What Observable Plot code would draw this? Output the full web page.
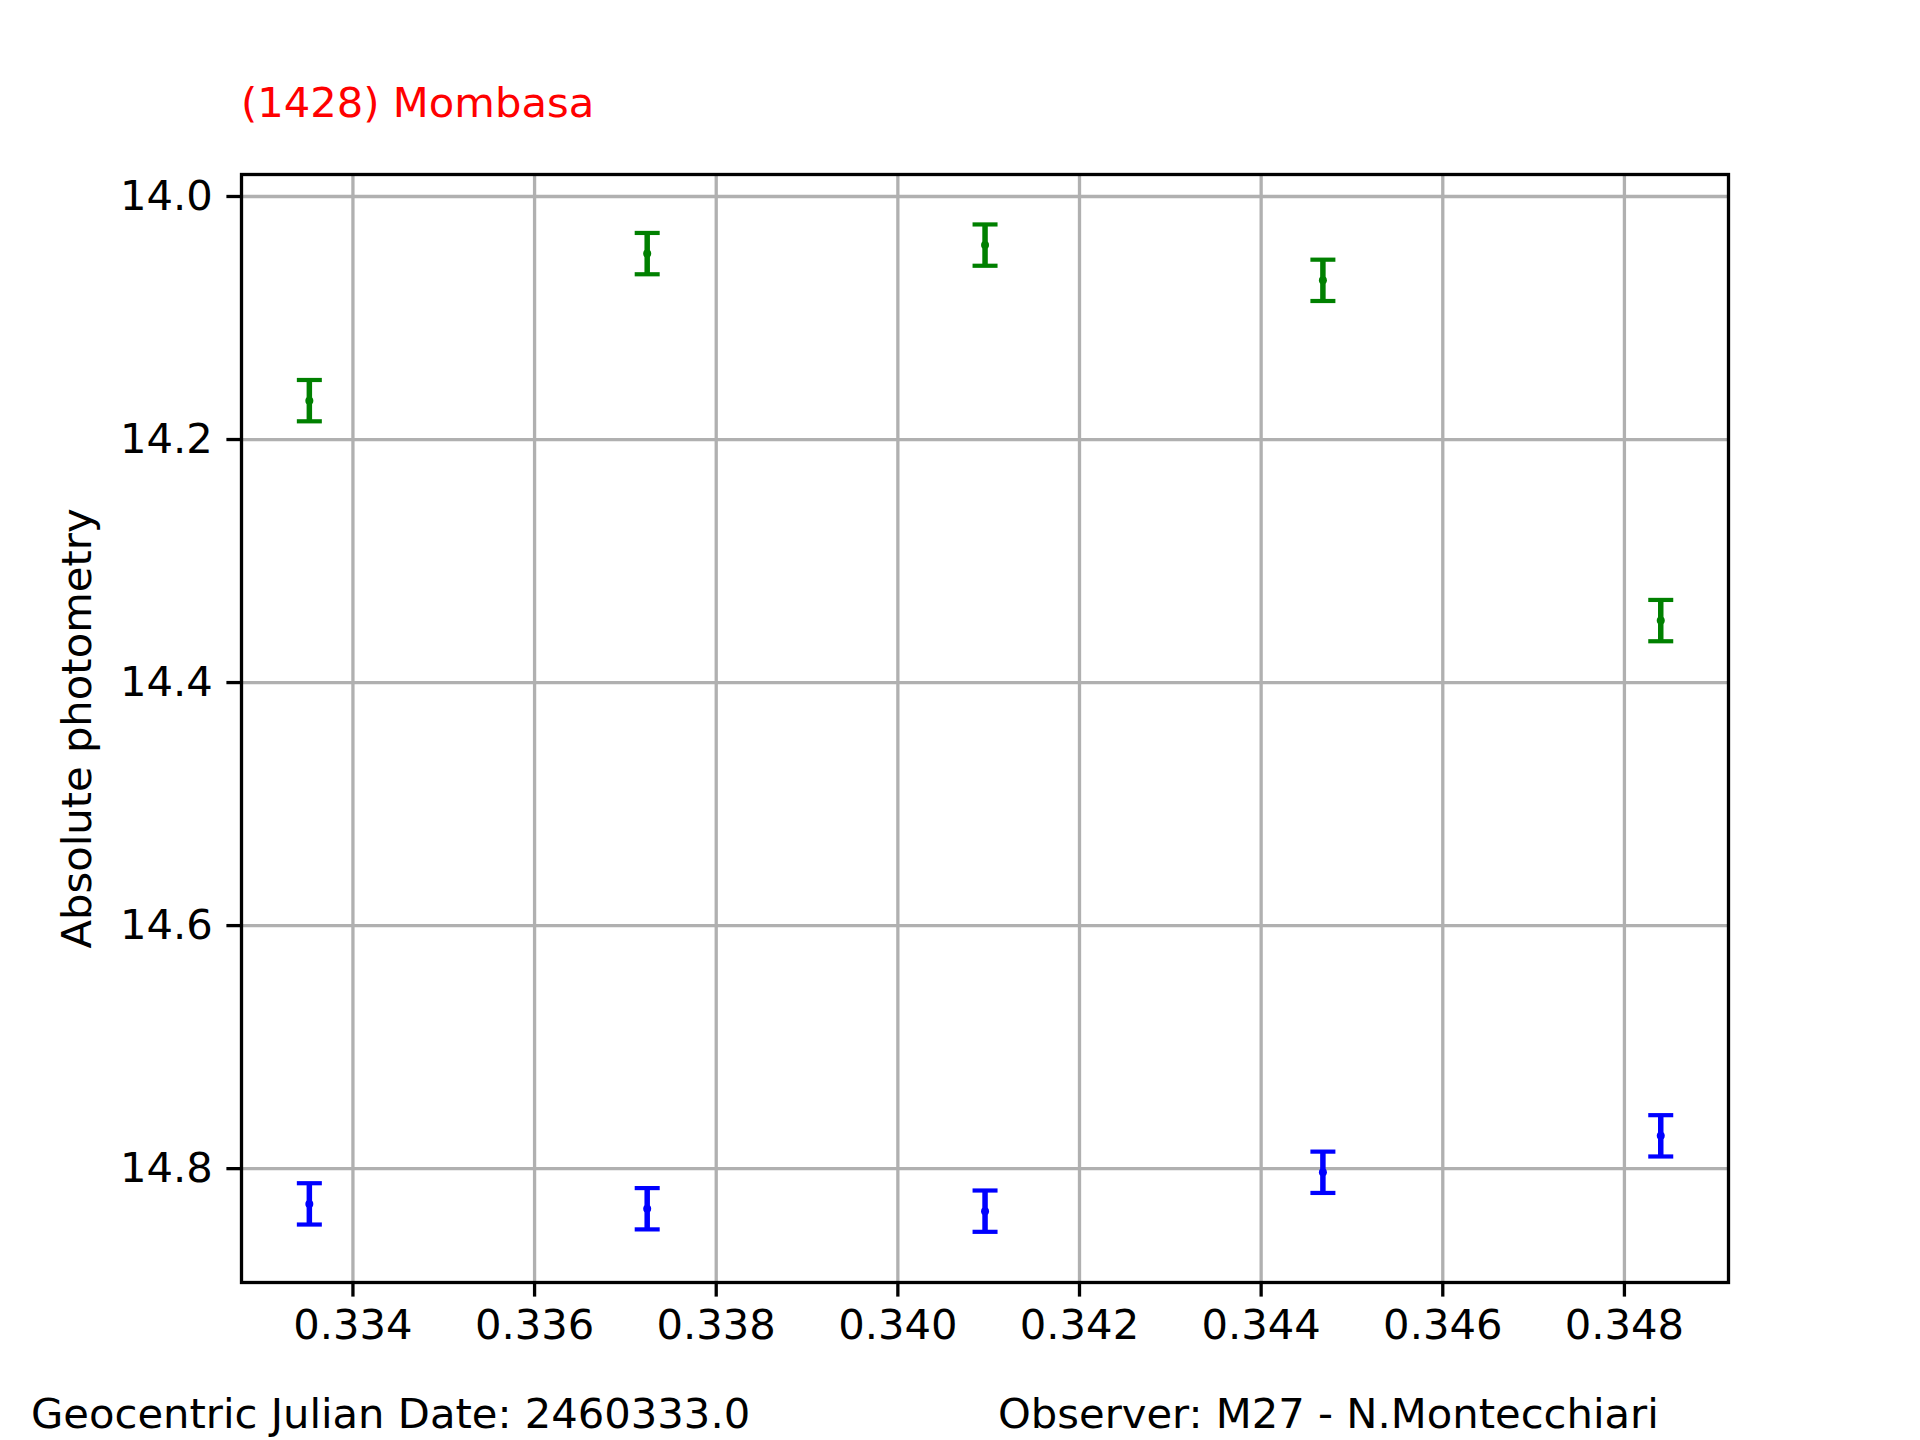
<!DOCTYPE html>
<html>
<head>
<meta charset="utf-8">
<script src="https://cdn.jsdelivr.net/npm/d3@7"></script>
<script src="https://cdn.jsdelivr.net/npm/@observablehq/plot@0.6"></script>
<style>
  html, body { margin: 0; padding: 0; background: #fff; }
  #wrap { position: relative; width: 1920px; height: 1440px; font-family: "DejaVu Sans", sans-serif; }
  .txt { position: absolute; font-size: 41.7px; line-height: normal; white-space: nowrap; }
  #title { left: 241px; top: 78px; color: #ff0000; }
  #foot1 { left: 31px; top: 1389px; color: #000; }
  #foot2 { left: 998px; top: 1389px; color: #000; }
  #chart { position: absolute; left: 0; top: 0; }
</style>
</head>
<body>
<div id="wrap">
  <div id="chart"></div>
  <div class="txt" id="title">(1428) Mombasa</div>
  <div class="txt" id="foot1">Geocentric Julian Date: 2460333.0</div>
  <div class="txt" id="foot2">Observer: M27 - N.Montecchiari</div>
</div>
<script>
// Data (fraction of day after JD 2460333.0)
const times = [0.33352, 0.33724, 0.34096, 0.34468, 0.34840];
const greenMag = [14.168, 14.047, 14.040, 14.069, 14.349];
const greenErr = [0.017, 0.017, 0.017, 0.017, 0.017];
const blueMag = [14.829, 14.833, 14.835, 14.803, 14.773];
const blueErr = [0.017, 0.017, 0.017, 0.017, 0.017];
const xTicks = [0.334, 0.336, 0.338, 0.340, 0.342, 0.344, 0.346, 0.348];
const yTicks = [14.0, 14.2, 14.4, 14.6, 14.8];
const yLabel = "Absolute photometry";

const series = [
  {mag: greenMag, err: greenErr, color: "#008000"},
  {mag: blueMag, err: blueErr, color: "#0000ff"}
];

const hbar = {
  draw(ctx, size) {
    const r = Math.sqrt(size / Math.PI);
    ctx.moveTo(-r, 0);
    ctx.lineTo(r, 0);
  }
};

const marks = [
  Plot.gridX(xTicks, {stroke: "#b0b0b0", strokeOpacity: 1, strokeWidth: 3.3}),
  Plot.gridY(yTicks, {stroke: "#b0b0b0", strokeOpacity: 1, strokeWidth: 3.3})
];

for (const s of series) {
  const rows = times.map((t, i) => ({t, v: s.mag[i], lo: s.mag[i] - s.err[i], hi: s.mag[i] + s.err[i]}));
  marks.push(
    Plot.ruleX(rows, {x: "t", y1: "lo", y2: "hi", stroke: s.color, strokeWidth: 5.5}),
    Plot.dot(rows, {x: "t", y: "lo", symbol: hbar, r: 12.5, stroke: s.color, strokeWidth: 4.2, fill: "none"}),
    Plot.dot(rows, {x: "t", y: "hi", symbol: hbar, r: 12.5, stroke: s.color, strokeWidth: 4.2, fill: "none"}),
    Plot.dot(rows, {x: "t", y: "v", r: 4, fill: s.color, stroke: "none"})
  );
}

marks.push(
  Plot.frame({stroke: "#000", strokeWidth: 3.3}),
  Plot.axisX(xTicks, {tickSize: 14.6, tickPadding: 12, strokeWidth: 3.3, tickFormat: d3.format(".3f"), fontSize: 41.7, label: null}),
  Plot.axisY(yTicks, {tickSize: 14.6, tickPadding: 14, strokeWidth: 3.3, tickFormat: d3.format(".1f"), fontSize: 41.7, label: null}),
  Plot.text([yLabel], {text: d => d, frameAnchor: "left", textAnchor: "middle", rotate: -90, dx: -164, fontSize: 41.7, fill: "#000"})
);

const chart = Plot.plot({
  width: 1920,
  height: 1440,
  marginLeft: 241,
  marginRight: 192,
  marginTop: 174,
  marginBottom: 158,
  style: {fontFamily: "DejaVu Sans", fontSize: "41.7px", background: "transparent", color: "#000"},
  x: {domain: [0.332773, 0.349146]},
  y: {domain: [13.9819, 14.8937], reverse: true},
  marks
});
document.getElementById("chart").appendChild(chart);
</script>
</body>
</html>
